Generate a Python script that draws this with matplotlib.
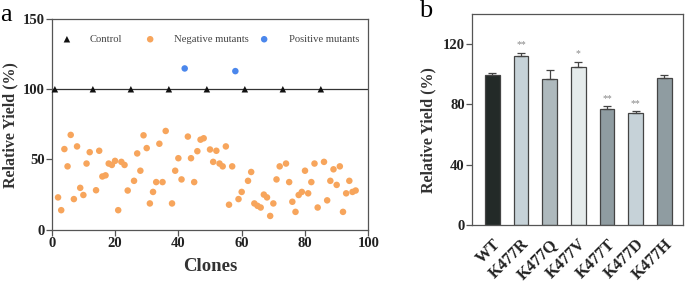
import matplotlib
matplotlib.use("Agg")
import matplotlib.pyplot as plt

plt.rcParams['font.family'] = ['Liberation Serif', 'DejaVu Serif']

# Panel a data
control_x = [1, 13, 25, 37, 49, 61, 73, 85]
control_y = [100, 100, 100, 100, 100, 100, 100, 100]
pos_x = [42, 58]
pos_y = [114.8, 112.9]
neg_x = [2, 3, 4, 5, 6, 7, 8, 9, 10, 11, 12, 14, 15, 16, 17, 18, 19, 20, 21, 22, 23, 24,
         26, 27, 28, 29, 30, 31, 32, 33, 34, 35, 36, 38, 39, 40, 41, 43, 44, 45, 46, 47, 48,
         50, 51, 52, 53, 54, 55, 56, 57, 59, 60, 62, 63, 64, 65, 66, 67, 68, 69, 70, 71, 72,
         74, 75, 76, 77, 78, 79, 80, 81, 82, 83, 84, 86, 87, 88, 89, 90, 91, 92, 93, 94, 95, 96]
neg_y = [23, 13.9, 57.4, 45.1, 67.5, 21.8, 59.3, 29.8, 24.7, 47.1, 55.2, 28.1, 56.2, 37.9, 38.7,
         47.1, 46.1, 49, 13.9, 48.3, 46.1, 27.9,
         34.8, 54.3, 42, 67.2, 58.1, 18.7, 26.9, 33.9, 61.2, 33.9, 70.3, 18.7, 42, 50.9, 35.8,
         66.3, 50.9, 33.9, 55.9, 64.1, 65.1,
         57.1, 48.3, 56.2, 47.1, 45.1, 59.3, 17.8, 45.1, 21.8, 26.9, 34.8, 41.1, 18.7, 17, 15.8,
         25, 23, 9.8, 18.7, 35.8, 45.1,
         47.1, 33.9, 19.9, 12.7, 24.7, 26.9, 42, 25.9, 33.9, 47.1, 15.8, 48.3, 20.9, 34.8, 43,
         31.9, 45.1, 12.7, 25.9, 34.8, 26.9, 27.9]
legend_labels = ['Control', 'Negative mutants', 'Positive mutants']

# Panel b data
categories = ['WT', 'K477R', 'K477Q', 'K477V', 'K477T', 'K477D', 'K477H']
means = [99.3, 112.5, 96.6, 104.8, 76.9, 74.1, 97.7]
errs = [1.7, 2.0, 6.0, 3.2, 1.8, 1.3, 2.2]
signif = ['', '**', '', '*', '**', '**', '']
bar_colors = ['#232a28', '#c6d2d8', '#aeb9bd', '#e5ebeb', '#8f9ca1', '#c6d2d8', '#8f9ca1']

fig = plt.figure(figsize=(6.85, 2.88), dpi=100)
spine_c = '#555555'
orange = '#f7a55c'
blue = '#4b87ec'

# ---- Panel a ----
ax = fig.add_axes([0.0755, 0.2024, 0.5377 - 0.0755, 0.934 - 0.2024])
ax.axhline(100, color='#333333', lw=0.9, zorder=1)
ax.scatter(neg_x, neg_y, s=22, color=orange, edgecolors='none', zorder=3)
ax.scatter(pos_x, pos_y, s=22, color=blue, edgecolors='none', zorder=3)
ax.scatter(control_x, control_y, s=22, marker='^', color='#111111', edgecolors='none',
           zorder=4, clip_on=False)
ax.set_xlim(0, 100)
ax.set_ylim(0, 150)
ax.set_xticks([0, 20, 40, 60, 80, 100])
ax.set_yticks([0, 50, 100, 150])
for s in ax.spines.values():
    s.set_color(spine_c)
    s.set_linewidth(0.9)
ax.tick_params(direction='out', length=4, width=0.9, color=spine_c, labelsize=10.5, pad=1)
for lab in ax.get_xticklabels() + ax.get_yticklabels():
    lab.set_fontweight('bold')
    lab.set_color('#222222')
ax.set_xlabel('Clones', fontsize=13.5, fontweight='bold', color='#333333', labelpad=6)

# manual legend
leg_markers = [('^', '#111111'), ('o', orange), ('o', blue)]
mk_x = [0.048, 0.311, 0.671]
tx_x = [0.121, 0.386, 0.750]
leg_y = 0.904
for (m, c), mx, tx, lab in zip(leg_markers, mk_x, tx_x, legend_labels):
    ax.scatter([mx], [leg_y], s=22, marker=m, color=c, edgecolors='none',
               transform=ax.transAxes, zorder=5)
    ax.text(tx, leg_y, lab, transform=ax.transAxes, fontsize=7.7, color='#444444',
            ha='left', va='center')

fig.text(0.015, 0.566, 'Relative Yield (%)', rotation=90, ha='center', va='center',
         fontsize=11.5, fontweight='bold', color='#333333')
fig.text(0.0, 0.948, 'a', fontsize=19, ha='left', va='center')

# ---- Panel b ----
bx = fig.add_axes([0.6886, 0.21875, 0.9966 - 0.6886, 0.951 - 0.21875])
xs = list(range(len(categories)))
bx.bar(xs, means, width=0.52, color=bar_colors, edgecolor='#444444', linewidth=0.9, zorder=2)
bx.errorbar(xs, means, yerr=[[0] * len(errs), errs], fmt='none', ecolor='#444444',
            elinewidth=0.9, capsize=3, capthick=0.9, zorder=3)
for x, m, e, s in zip(xs, means, errs, signif):
    if s:
        bx.text(x, m + e + 2.5, s, ha='center', va='bottom', fontsize=7, color='#888888')
bx.set_xlim(-0.72, 6.64)
bx.set_ylim(0, 140)
bx.set_yticks([0, 40, 80, 120])
bx.set_xticks(xs)
bx.set_xticklabels(categories, rotation=45, ha='right', rotation_mode='anchor',
                   fontsize=11.8, fontweight='bold', color='#222222')
for s in bx.spines.values():
    s.set_color(spine_c)
    s.set_linewidth(0.9)
bx.tick_params(axis='y', direction='out', length=4, width=0.9, color=spine_c, labelsize=10.5, pad=1)
bx.tick_params(axis='x', length=0, pad=8)
for lab in bx.get_yticklabels():
    lab.set_fontweight('bold')
    lab.set_color('#222222')
fig.text(0.625, 0.55, 'Relative Yield (%)', rotation=90, ha='center', va='center',
         fontsize=11.5, fontweight='bold', color='#333333')
fig.text(0.612, 0.962, 'b', fontsize=19, ha='left', va='center')

fig.savefig('out.png', dpi=100)
